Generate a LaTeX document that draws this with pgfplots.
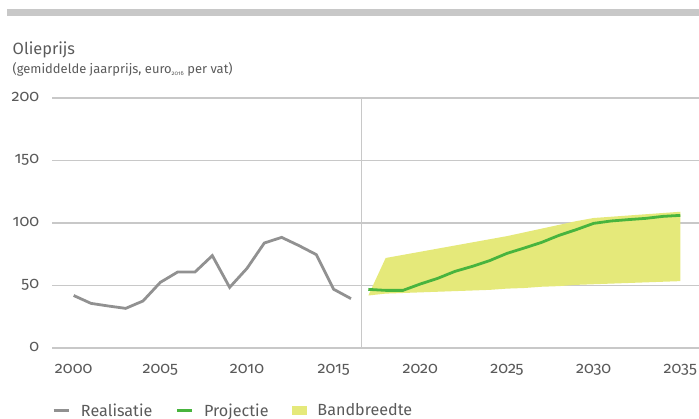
\documentclass[border=0pt]{standalone}
\usepackage{fontspec}
\setmainfont{Fira Sans}[Numbers=OldStyle]
\usepackage{pgfplots}
\pgfplotsset{compat=1.18}
\definecolor{gridgray}{RGB}{200,200,200}
\definecolor{realgray}{RGB}{145,145,145}
\definecolor{projgreen}{RGB}{72,180,62}
\definecolor{bandyellow}{RGB}{229,233,122}
\definecolor{txtgray}{RGB}{90,90,90}
\begin{document}
\begin{tikzpicture}
\path[use as bounding box] (0bp,0bp) rectangle (699bp,419bp);
\fill[gridgray] (7bp,402.5bp) rectangle (699bp,410bp);
\node[anchor=base west, inner sep=0pt, text=txtgray, font=\fontsize{16.4}{19}\selectfont] at (12.5bp,364bp) {Olieprijs};
\node[anchor=base west, inner sep=0pt, text=txtgray, font=\fontsize{13}{15}\selectfont] at (12.5bp,345.5bp) {(gemiddelde jaarprijs, euro{\fontsize{6}{6}\selectfont\raisebox{-2pt}{2016}} per vat)};
\begin{axis}[
  at={(52bp,71bp)}, anchor=south west,
  width=647bp, height=250bp, scale only axis,
  xmin=1998.75, xmax=2036.08, ymin=0, ymax=200,
  axis line style={draw=none},
  major tick style={draw=none},
  xtick={2000,2005,...,2035},
  ytick={0,50,...,200},
  ymajorgrids,
  grid style={gridgray, line width=1.8pt},
  /pgf/number format/assume math mode=true,
  /pgf/number format/set thousands separator={},
  ticklabel style={font=\fontsize{16.2}{18}\selectfont, text=txtgray, inner sep=0pt},
  xticklabel style={anchor=base, yshift=-25bp},
  yticklabel style={anchor=base east, xshift=-12.7bp, yshift=-3.5bp},
  clip=false,
  legend columns=3,
  legend style={at={(0,0)}, anchor=west, yshift=-62.5bp, draw=none, fill=none,
    inner sep=0pt, font=\fontsize{16.2}{18}\selectfont, text=txtgray,
    nodes={inner sep=0pt},
    /tikz/every odd column/.append style={column sep=11bp},
    /tikz/every even column/.append style={column sep=23bp}},
]
\draw[gridgray, line width=1.2pt] (axis cs:2016.6,0) -- (axis cs:2016.6,200);
\addplot[fill=bandyellow, draw=none, forget plot] coordinates {
(2017,42) (2018,72) (2019,74.5) (2020,77) (2021,79.5) (2022,82) (2023,84.5) (2024,87) (2025,89.5) (2026,92.5) (2027,95.5) (2028,98.5) (2029,101.5) (2030,104) (2031,105) (2032,106) (2033,107) (2034,108) (2035,109)
(2035,53.5) (2034,53) (2033,52.5) (2032,52) (2031,51.5) (2030,51) (2029,50.5) (2028,49.5) (2027,49) (2026,48) (2025,47.5) (2024,46.5) (2023,46) (2022,45.5) (2021,45) (2020,44.5) (2019,44) (2018,43.5) (2017,42)
} -- cycle;
\addplot[realgray, line width=2.8pt, mark=none, legend image code/.code={\draw[realgray, line width=2.8pt] (0bp,0bp) -- (15bp,0bp);}] coordinates {
(2000,42) (2001,35.7) (2002,33.6) (2003,31.7) (2004,37.6) (2005,52.5) (2006,60.8) (2007,60.8) (2008,73.9) (2009,48.5) (2010,63.7) (2011,84) (2012,88.5) (2013,81.9) (2014,74.7) (2015,47) (2016,39.5)
};
\addlegendentry{Realisatie}
\addplot[projgreen, line width=2.8pt, mark=none, legend image code/.code={\draw[projgreen, line width=2.8pt] (0bp,0bp) -- (15bp,0bp);}] coordinates {
(2017,46.9) (2018,46.1) (2019,46.1) (2020,51.2) (2021,55.7) (2022,61.3) (2023,65.3) (2024,69.9) (2025,75.7) (2026,80) (2027,84.5) (2028,90.1) (2029,94.7) (2030,99.7) (2031,101.6) (2032,102.7) (2033,103.7) (2034,105.3) (2035,106.1)
};
\addlegendentry{Projectie}
\addlegendimage{legend image code/.code={\fill[bandyellow] (0bp,-4bp) rectangle (14.5bp,4bp);}}
\addlegendentry{Bandbreedte}
\end{axis}
\end{tikzpicture}
\end{document}
